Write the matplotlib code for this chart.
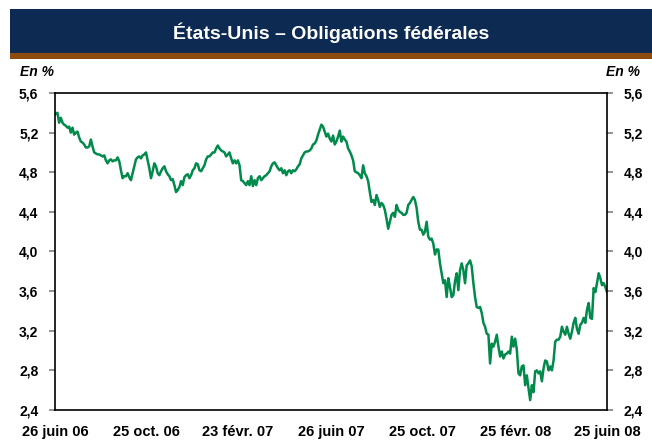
import matplotlib

matplotlib.use("Agg")
import matplotlib.pyplot as plt
import matplotlib.dates as mdates
import pandas as pd
from matplotlib.patches import Rectangle
from matplotlib.ticker import FuncFormatter

plt.rcParams["font.family"] = ["Liberation Sans", "DejaVu Sans"]

TITLE = "États-Unis – Obligations fédérales"
UNIT = "En %"

START_DATE = "2006-06-27"
END_DATE = "2008-06-25"

# rendement lu sur le graphique, pas régulier dans le temps
yields = [
    5.39, 5.40, 5.30, 5.35, 5.30, 5.28, 5.27, 5.25, 5.26, 5.20,
    5.25, 5.18, 5.20, 5.21, 5.15, 5.11, 5.10, 5.08, 5.05, 5.05,
    5.06, 5.13, 5.06, 5.00, 4.99, 4.98, 4.98, 4.97, 4.96, 4.97,
    4.92, 4.89, 4.92, 4.93, 4.91, 4.92, 4.92, 4.95, 4.91, 4.82,
    4.74, 4.76, 4.76, 4.79, 4.75, 4.72, 4.79, 4.86, 4.93, 4.95,
    4.96, 4.94, 4.97, 4.98, 5.00, 4.92, 4.84, 4.74, 4.81, 4.89,
    4.86, 4.79, 4.77, 4.81, 4.84, 4.86, 4.81, 4.78, 4.76, 4.72,
    4.73, 4.67, 4.60, 4.62, 4.65, 4.71, 4.67, 4.75, 4.77, 4.78,
    4.74, 4.77, 4.82, 4.84, 4.89, 4.88, 4.82, 4.81, 4.84, 4.87,
    4.93, 4.96, 4.96, 4.98, 5.00, 5.00, 5.04, 5.07, 5.04, 5.02,
    5.01, 5.00, 4.96, 4.98, 5.00, 4.94, 4.89, 4.92, 4.89, 4.92,
    4.87, 4.72, 4.71, 4.69, 4.67, 4.71, 4.67, 4.76, 4.66, 4.72,
    4.67, 4.74, 4.76, 4.72, 4.74, 4.76, 4.77, 4.79, 4.81, 4.86,
    4.89, 4.90, 4.87, 4.84, 4.82, 4.84, 4.79, 4.82, 4.77, 4.81,
    4.82, 4.79, 4.82, 4.81, 4.83, 4.86,
    4.88, 4.94, 4.97, 5.00, 5.01, 5.01, 5.02, 5.04, 5.08, 5.09,
    5.12, 5.18, 5.23, 5.28, 5.26, 5.21, 5.16, 5.19, 5.14, 5.11,
    5.17, 5.08, 5.11, 5.16, 5.22, 5.11, 5.16, 5.13, 5.11, 5.04,
    5.01, 4.97, 4.92, 4.81, 4.80, 4.79, 4.77, 4.74, 4.87, 4.79,
    4.76, 4.71, 4.60, 4.50, 4.52, 4.47, 4.57, 4.52, 4.45, 4.49,
    4.47, 4.42, 4.33, 4.23, 4.30, 4.37, 4.39, 4.35, 4.47, 4.42,
    4.40, 4.39, 4.37, 4.37, 4.39, 4.47, 4.49, 4.52, 4.55, 4.52,
    4.44, 4.30, 4.22, 4.22, 4.17, 4.20, 4.30, 4.15, 4.12,
    4.13, 4.08, 3.97, 4.02, 4.02, 3.88, 3.78, 3.68, 3.71, 3.54,
    3.73, 3.64, 3.54, 3.56, 3.70, 3.78, 3.61, 3.81, 3.88, 3.81,
    3.68, 3.86, 3.88, 3.91, 3.85, 3.68, 3.54, 3.44, 3.43, 3.44,
    3.38, 3.28, 3.24, 3.17, 3.16, 2.87, 3.07, 3.04, 3.09, 3.16,
    3.04, 2.94, 2.99, 2.92, 2.96, 2.97, 2.99,
    2.97, 3.14, 3.04, 3.12, 3.01, 2.77, 2.75, 2.84, 2.85, 2.65,
    2.75, 2.62, 2.50, 2.65, 2.58, 2.79, 2.80, 2.77, 2.79, 2.69,
    2.82, 2.90, 2.89, 2.80, 2.84, 2.80, 2.90, 3.09, 3.11, 3.11,
    3.14, 3.24, 3.19, 3.16, 3.24, 3.17, 3.12, 3.19, 3.28, 3.33,
    3.22, 3.17, 3.26, 3.28, 3.33, 3.28, 3.41, 3.48, 3.33, 3.32,
    3.63, 3.59, 3.68, 3.78, 3.73, 3.66, 3.68, 3.64, 3.59,
]

tick_dates = ["2006-06-26", "2006-10-25", "2007-02-23", "2007-06-26",
              "2007-10-25", "2008-02-25", "2008-06-25"]
tick_labels = ["26 juin 06", "25 oct. 06", "23 févr. 07", "26 juin 07",
               "25 oct. 07", "25 févr. 08", "25 juin 08"]
y_ticks = [2.4, 2.8, 3.2, 3.6, 4.0, 4.4, 4.8, 5.2, 5.6]

NAVY = "#0C2A52"
BROWN = "#8E4B10"
GREEN = "#008A4B"

dates = pd.date_range(START_DATE, END_DATE, periods=len(yields))

fig = plt.figure(figsize=(6.52, 4.42), dpi=100)
fig.patches.append(Rectangle((0.015, 0.880), 0.985, 0.0995, transform=fig.transFigure,
                             facecolor=NAVY, edgecolor="none"))
fig.patches.append(Rectangle((0.015, 0.8665), 0.985, 0.0136, transform=fig.transFigure,
                             facecolor=BROWN, edgecolor="none"))
fig.text(0.508, 0.926, TITLE, ha="center", va="center", color="white",
         fontsize=14, fontweight="bold")
fig.text(0.030, 0.836, UNIT, ha="left", va="center", fontsize=10,
         fontweight="bold", style="italic")
fig.text(0.929, 0.836, UNIT, ha="left", va="center", fontsize=10,
         fontweight="bold", style="italic")

ax = fig.add_axes((0.0844, 0.0724, 0.8466, 0.7172))
ax.plot(dates, yields, color=GREEN, linewidth=1.8)

ax.set_xlim(pd.Timestamp("2006-06-26"), pd.Timestamp("2008-06-25"))
ax.set_ylim(2.4, 5.6)
ax.set_yticks(y_ticks)
ax.yaxis.set_major_formatter(FuncFormatter(lambda v, _: f"{v:.1f}".replace(".", ",")))
ax.set_xticks([mdates.date2num(pd.Timestamp(d)) for d in tick_dates])
ax.set_xticklabels(tick_labels)

ax.tick_params(axis="y", which="both", left=True, right=True, labelleft=True,
               labelright=True, length=4, width=1.2, color="#808080",
               direction="out", labelsize=10, pad=8)
ax.tick_params(axis="x", length=0, labelsize=10.5, pad=11)
for lab in ax.get_xticklabels() + ax.get_yticklabels():
    lab.set_fontweight("bold")
for t in ax.yaxis.get_major_ticks():
    t.label2.set_fontweight("bold")

for side in ("left", "right", "top", "bottom"):
    ax.spines[side].set_color("black")
    ax.spines[side].set_linewidth(1.2)

fig.savefig("out.png", dpi=100)
plt.close(fig)
